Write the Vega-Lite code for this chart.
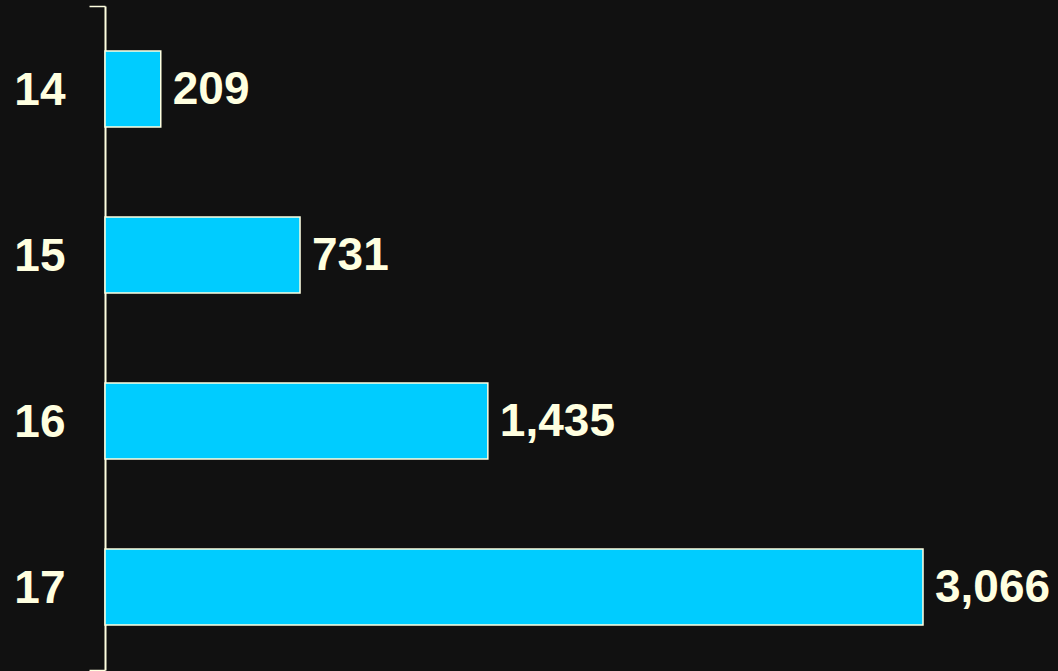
{
  "$schema": "https://vega.github.io/schema/vega-lite/v6.json",
  "width": 953,
  "height": 664,
  "autosize": {"type": "none"},
  "padding": {"left": 105, "top": 6, "right": 0, "bottom": 1},
  "background": "#111111",
  "config": {"view": {"stroke": null}},
  "data": {"values": [
    {"age": "14", "count": 209},
    {"age": "15", "count": 731},
    {"age": "16", "count": 1435},
    {"age": "17", "count": 3066}
  ]},
  "encoding": {
    "y": {
      "field": "age", "type": "nominal", "sort": null,
      "scale": {"paddingInner": 0, "paddingOuter": 0},
      "axis": {
        "title": null,
        "tickBand": "extent",
        "domainColor": "#FFFFE0",
        "domainWidth": 2,
        "tickColor": "#FFFFE0",
        "tickWidth": 1.5,
        "tickSize": 16,
        "tickOpacity": {"condition": {"test": "datum.extra || datum.value === '17'", "value": 1}, "value": 0},
        "labelPadding": 24,
        "labelOffset": 1,
        "labelFont": "Liberation Sans",
        "labelFontWeight": "bold",
        "labelFontSize": 46,
        "labelColor": "#FFFFE0"
      }
    },
    "x": {
      "field": "count", "type": "quantitative",
      "scale": {"domain": [0, 3572], "nice": false},
      "axis": null
    }
  },
  "layer": [
    {
      "mark": {"type": "bar", "height": {"band": 0.458}, "color": "#00CCFF", "stroke": "#FFFFE0", "strokeWidth": 1.5}
    },
    {
      "mark": {"type": "text", "align": "left", "baseline": "middle", "dx": 12, "dy": 1, "font": "Liberation Sans", "fontWeight": "bold", "fontSize": 46, "color": "#FFFFE0"},
      "encoding": {"text": {"field": "count", "type": "quantitative", "format": ","}}
    }
  ]
}
